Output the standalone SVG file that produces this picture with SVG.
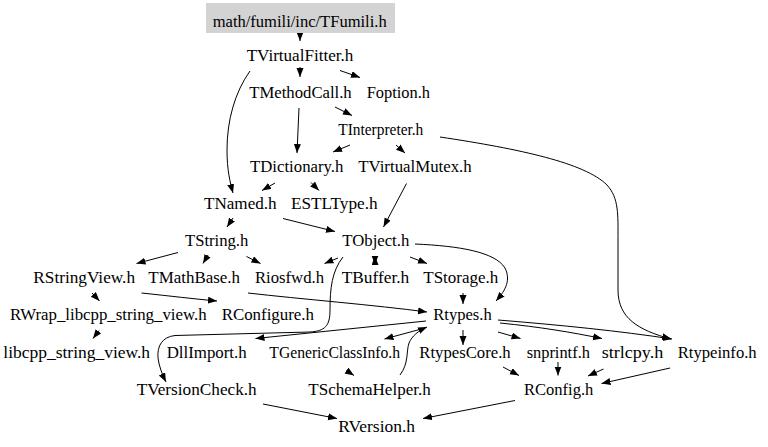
<svg xmlns="http://www.w3.org/2000/svg" width="768" height="447" viewBox="0 0 768 447">
<style>
.e{fill:none;stroke:#000;stroke-width:1;marker-end:url(#ah)}
</style>
<defs>
<marker id="ah" markerUnits="userSpaceOnUse" markerWidth="10" markerHeight="8" refX="9" refY="3.5" orient="auto" viewBox="0 0 10 8">
<path d="M0,0 L9,3.5 L0,7 z" fill="#000"/>
</marker>
<marker id="as" markerUnits="userSpaceOnUse" markerWidth="10" markerHeight="8" refX="9" refY="3.5" orient="auto-start-reverse" viewBox="0 0 10 8">
<path d="M0,0 L9,3.5 L0,7 z" fill="#000"/>
</marker>
</defs>
<rect width="768" height="447" fill="#fff"/>
<g id="connectors">
<path class="e" d="M300,33 L300,41"/>
<path class="e" d="M300,67 L300,77"/>
<path class="e" d="M340,70.5 L360,77.5"/>
<path class="e" d="M250,71 C235,92 227,120 227,150 C227,170 230,182 233,193"/>
<path class="e" d="M299,108 L297,153"/>
<path class="e" d="M335,107 L352,115.5"/>
<path class="e" d="M350,145 L333,152"/>
<path class="e" d="M396,145 L405,153"/>
<path class="e" d="M440,137 C520,149 585,163 607,185 C619,198 618,215 618,240 L618,290 C618,318 638,330 671,339"/>
<path class="e" d="M275,183 L262,190.5"/>
<path class="e" d="M311,182.5 L319,190.5"/>
<path class="e" d="M406.5,183.5 L383.5,227"/>
<path class="e" d="M233,218 L227,227"/>
<path class="e" d="M283,218.5 L335,231.5"/>
<path class="e" d="M178,252.5 L136.5,263.5"/>
<path class="e" d="M208,255 L203,263.5"/>
<path class="e" d="M246.5,256.5 L260.5,263.5"/>
<path class="e" d="M338,258 L324.5,263.5"/>
<path class="e" d="M375,256 L375,264.5" style="marker-start:url(#as)"/>
<path class="e" d="M410,257 L427,263.5"/>
<path class="e" d="M415,244 C460,246 495,252 505,268 C512,282 503,293 496,301"/>
<path class="e" d="M343,257 C332,271 330,288 330,310 C330,326 325,331 310,332 L175,335.5 C162,337 157,346 158,358 C159,366 162,374 166,382"/>
<path class="e" d="M92,293 L99.5,301"/>
<path class="e" d="M141.5,293 C170,296 195,299 217,301"/>
<path class="e" d="M248,293 C300,299 375,305 427,312"/>
<path class="e" d="M99,330.5 L93,338.5"/>
<path class="e" d="M426,321 L255.5,338.5"/>
<path class="e" d="M425,328 L384.5,339"/>
<path class="e" d="M400,375 C409,363 406,352 409,343 C412,336 418,331 427,327"/>
<path class="e" d="M346.5,370.5 L354,375.5"/>
<path class="e" d="M463,330 L463,345"/>
<path class="e" d="M498,332 L520.5,338.5"/>
<path class="e" d="M500,323 C540,327 570,332 602,338.5"/>
<path class="e" d="M498,320 C560,325 620,331 672,339"/>
<path class="e" d="M463,293 L463,304"/>
<path class="e" d="M503,367 L519,375.5"/>
<path class="e" d="M558,362 L558,375.5"/>
<path class="e" d="M603.5,369 L588,376"/>
<path class="e" d="M670,368 L601.5,383.5"/>
<path class="e" d="M515,400.5 L423,418.5"/>
<path class="e" d="M263,404 L337,418.5"/>
</g>
<g font-family="Liberation Serif, Times New Roman, Times, Nimbus Roman, FreeSerif, DejaVu Serif, serif" font-size="16" fill="#000" text-anchor="middle">
<g id="n_TFumili"><rect x="206" y="3" width="189" height="30" fill="#d3d3d3"/><text x="299.7" y="26.5" textLength="174" lengthAdjust="spacingAndGlyphs">math/fumili/inc/TFumili.h</text></g>
<g id="n_TVirtualFitter"><text x="300" y="61" textLength="106.7" lengthAdjust="spacingAndGlyphs">TVirtualFitter.h</text></g>
<g id="n_TMethodCall"><text x="300.5" y="97.5" textLength="102.4" lengthAdjust="spacingAndGlyphs">TMethodCall.h</text></g>
<g id="n_Foption"><text x="398.3" y="97.5" textLength="63.3" lengthAdjust="spacingAndGlyphs">Foption.h</text></g>
<g id="n_TInterpreter"><text x="380.8" y="134.5" textLength="85" lengthAdjust="spacingAndGlyphs">TInterpreter.h</text></g>
<g id="n_TDictionary"><text x="296.7" y="171.5" textLength="93.3" lengthAdjust="spacingAndGlyphs">TDictionary.h</text></g>
<g id="n_TVirtualMutex"><text x="415" y="171.5" textLength="113.4" lengthAdjust="spacingAndGlyphs">TVirtualMutex.h</text></g>
<g id="n_TNamed"><text x="240.3" y="208.5" textLength="72.7" lengthAdjust="spacingAndGlyphs">TNamed.h</text></g>
<g id="n_ESTLType"><text x="334.3" y="208.5" textLength="86.7" lengthAdjust="spacingAndGlyphs">ESTLType.h</text></g>
<g id="n_TString"><text x="216.7" y="245.5" textLength="63.3" lengthAdjust="spacingAndGlyphs">TString.h</text></g>
<g id="n_TObject"><text x="375.8" y="245.5" textLength="67" lengthAdjust="spacingAndGlyphs">TObject.h</text></g>
<g id="n_RStringView"><text x="84.2" y="282.5" textLength="101.7" lengthAdjust="spacingAndGlyphs">RStringView.h</text></g>
<g id="n_TMathBase"><text x="194.2" y="282.5" textLength="91.7" lengthAdjust="spacingAndGlyphs">TMathBase.h</text></g>
<g id="n_Riosfwd"><text x="289.5" y="282.5" textLength="69" lengthAdjust="spacingAndGlyphs">Riosfwd.h</text></g>
<g id="n_TBuffer"><text x="375.5" y="282.5" textLength="67.6" lengthAdjust="spacingAndGlyphs">TBuffer.h</text></g>
<g id="n_TStorage"><text x="460.8" y="282.5" textLength="75" lengthAdjust="spacingAndGlyphs">TStorage.h</text></g>
<g id="n_RWrap"><text x="108.3" y="320" textLength="196.7" lengthAdjust="spacingAndGlyphs">RWrap_libcpp_string_view.h</text></g>
<g id="n_RConfigure"><text x="267.8" y="320" textLength="92.3" lengthAdjust="spacingAndGlyphs">RConfigure.h</text></g>
<g id="n_Rtypes"><text x="462.5" y="320" textLength="58.4" lengthAdjust="spacingAndGlyphs">Rtypes.h</text></g>
<g id="n_libcpp"><text x="76.7" y="357.5" textLength="146.7" lengthAdjust="spacingAndGlyphs">libcpp_string_view.h</text></g>
<g id="n_DllImport"><text x="206.7" y="357.5" textLength="80" lengthAdjust="spacingAndGlyphs">DllImport.h</text></g>
<g id="n_TGenericClassInfo"><text x="334.7" y="357.5" textLength="130.7" lengthAdjust="spacingAndGlyphs">TGenericClassInfo.h</text></g>
<g id="n_RtypesCore"><text x="465" y="357.5" textLength="91.4" lengthAdjust="spacingAndGlyphs">RtypesCore.h</text></g>
<g id="n_snprintf"><text x="558.3" y="357.5" textLength="63.3" lengthAdjust="spacingAndGlyphs">snprintf.h</text></g>
<g id="n_strlcpy"><text x="632.5" y="357.5" textLength="61.6" lengthAdjust="spacingAndGlyphs">strlcpy.h</text></g>
<g id="n_Rtypeinfo"><text x="717.2" y="357.5" textLength="79" lengthAdjust="spacingAndGlyphs">Rtypeinfo.h</text></g>
<g id="n_TVersionCheck"><text x="196.7" y="394.5" textLength="120" lengthAdjust="spacingAndGlyphs">TVersionCheck.h</text></g>
<g id="n_TSchemaHelper"><text x="369.5" y="394.5" textLength="122.4" lengthAdjust="spacingAndGlyphs">TSchemaHelper.h</text></g>
<g id="n_RConfig"><text x="558.7" y="394.5" textLength="69.3" lengthAdjust="spacingAndGlyphs">RConfig.h</text></g>
<g id="n_RVersion"><text x="376.7" y="431.5" textLength="76.7" lengthAdjust="spacingAndGlyphs">RVersion.h</text></g>
</g>
</svg>
